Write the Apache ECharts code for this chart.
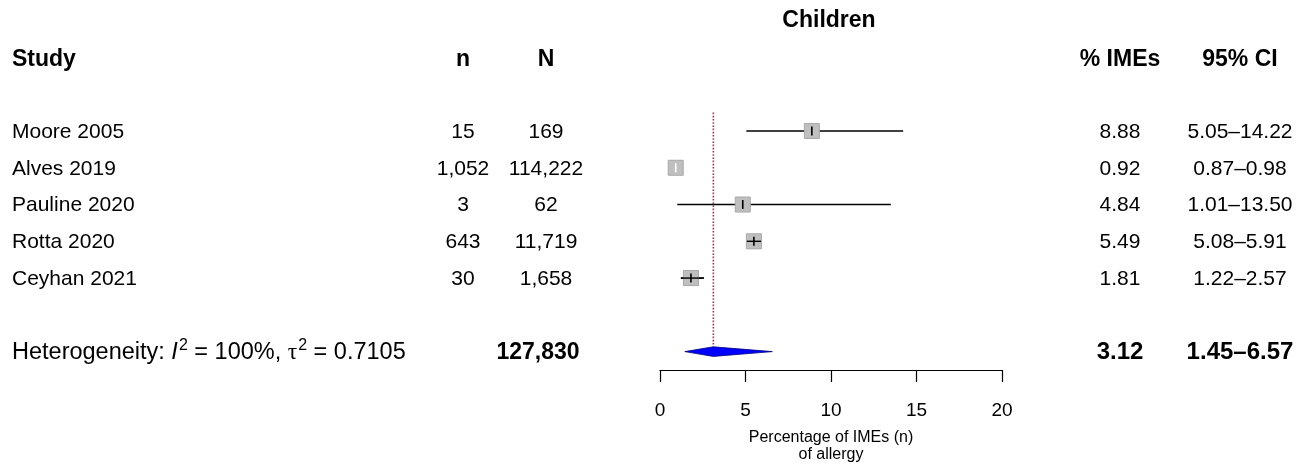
<!DOCTYPE html>
<html><head><meta charset="utf-8">
<script src="https://cdn.jsdelivr.net/npm/echarts@6/dist/echarts.min.js"></script>
<style>html,body{margin:0;padding:0;background:#fff}#c{width:1313px;height:468px}</style>
</head><body><div id="c"></div>
<script>
// ---- data ----
const studies = ['Moore 2005', 'Alves 2019', 'Pauline 2020', 'Rotta 2020', 'Ceyhan 2021'];
const events = [15, 1052, 3, 643, 30];
const totals = [169, 114222, 62, 11719, 1658];
const estimates = [8.88, 0.92, 4.84, 5.49, 1.81];
const lower = [5.05, 0.87, 1.01, 5.08, 1.22];
const upper = [14.22, 0.98, 13.50, 5.91, 2.57];
const pooledEstimate = [3.12];
const pooledLower = [1.45];
const pooledUpper = [6.57];
const pooledTotal = [127830];
const heterogeneity = ['100%', '0.7105'];
const headerLabels = ['Study', 'n', 'N', '% IMEs', '95% CI'];
const panelTitle = ['Children'];
const xTicks = [0, 5, 10, 15, 20];
const axisTitle = ['Percentage of IMEs (n)', 'of allergy'];

// ---- layout ----
const FF = '"Liberation Sans", Arial, sans-serif';
const ROW_TITLE = 0, ROW_HEADER = 1, ROW_FIRST = 3, ROW_SUMMARY = 9;
const COL = {study: 12, n: 463, N: 546, title: 829, pct: 1120, ci: 1240};
const fmtInt = v => v.toLocaleString('en-US');
const fmtCI = (a, b) => a.toFixed(2) + '\u2013' + b.toFixed(2);

const chart = echarts.init(document.getElementById('c'), null, {renderer: 'canvas'});

function txt(p, text, size, bold, align) {
  return {type: 'text', x: p[0], y: p[1], style: {text: text, fontSize: size, fontFamily: FF,
    fontWeight: bold ? 'bold' : 'normal', fill: '#000', align: align, verticalAlign: 'middle'}};
}

const option = {
  animation: false,
  backgroundColor: '#fff',
  textStyle: {fontFamily: FF},
  grid: [
    {left: 660, width: 342, top: 112.6, height: 257.6},
    {left: 0, right: 0, top: 2.2, height: 368}
  ],
  xAxis: [
    {gridIndex: 0, type: 'value', min: xTicks[0], max: xTicks[xTicks.length - 1], interval: 5,
      axisLine: {show: true, onZero: false, lineStyle: {color: '#000', width: 1.2}},
      axisTick: {show: true, length: 12, customValues: xTicks, lineStyle: {color: '#000', width: 1.2}},
      axisLabel: {fontSize: 19, color: '#000', margin: 31, fontFamily: FF, customValues: xTicks},
      splitLine: {show: false},
      name: axisTitle.join('\n'), nameLocation: 'middle', nameGap: 59,
      nameTextStyle: {fontSize: 16, color: '#000', lineHeight: 17, fontFamily: FF}},
    {gridIndex: 1, type: 'value', min: 0, max: 1313, show: false}
  ],
  yAxis: [
    {gridIndex: 0, type: 'value', min: 2.5, max: 9.5, inverse: true, show: false},
    {gridIndex: 1, type: 'value', min: -0.5, max: 9.5, inverse: true, show: false}
  ],
  series: [
    // reference line at pooled estimate
    {type: 'custom', xAxisIndex: 0, yAxisIndex: 0, z: 1,
      data: [[pooledEstimate[0], 2.5, ROW_SUMMARY]],
      renderItem: function (params, api) {
        const a = api.coord([api.value(0), api.value(1)]);
        const b = api.coord([api.value(0), api.value(2)]);
        return {type: 'line', shape: {x1: a[0], y1: a[1], x2: b[0], y2: b[1] - 5},
          style: {stroke: '#b2305e', lineWidth: 1.6, lineDash: [1.6, 1.6]}};
      }},
    // studies
    {type: 'custom', xAxisIndex: 0, yAxisIndex: 0, z: 3,
      data: studies.map((s, i) => [estimates[i], lower[i], upper[i], ROW_FIRST + i]),
      encode: {x: [0, 1, 2], y: 3},
      renderItem: function (params, api) {
        const r = api.value(3);
        const c = api.coord([api.value(0), r]);
        const l = api.coord([api.value(1), r]);
        const h = api.coord([api.value(2), r]);
        const s = 15;
        const w = h[0] - l[0];
        const inner = w < s * 0.5 ? '#ffffff' : '#000000';
        const ch = [];
        ch.push({type: 'line', shape: {x1: l[0], y1: c[1], x2: h[0], y2: c[1]},
          style: {stroke: '#000', lineWidth: 1.4}});
        ch.push({type: 'rect', shape: {x: c[0] - s / 2, y: c[1] - s / 2, width: s, height: s},
          style: {fill: '#bfbfbf', stroke: '#a8a8a8', lineWidth: 1}});
        if (w < s * 2) ch.push({type: 'line', shape: {x1: l[0], y1: c[1], x2: h[0], y2: c[1]},
          style: {stroke: inner, lineWidth: 1.4}});
        ch.push({type: 'line', shape: {x1: c[0], y1: c[1] - 4.5, x2: c[0], y2: c[1] + 4.5},
          style: {stroke: inner, lineWidth: 1.6}});
        return {type: 'group', children: ch};
      }},
    // pooled diamond
    {type: 'custom', xAxisIndex: 0, yAxisIndex: 0, z: 4,
      data: [[pooledEstimate[0], pooledLower[0], pooledUpper[0], ROW_SUMMARY]],
      encode: {x: [0, 1, 2], y: 3},
      renderItem: function (params, api) {
        const r = api.value(3);
        const c = api.coord([api.value(0), r]);
        const l = api.coord([api.value(1), r]);
        const h = api.coord([api.value(2), r]);
        const hh = 4.8;
        return {type: 'polygon', shape: {points: [[l[0], c[1]], [c[0], c[1] - hh], [h[0], c[1]], [c[0], c[1] + hh]]},
          style: {fill: '#0000ff', stroke: '#00007a', lineWidth: 0.8}};
      }},
    // header texts
    {type: 'custom', xAxisIndex: 1, yAxisIndex: 1, z: 5,
      data: [[0, ROW_HEADER]],
      renderItem: function (params, api) {
        const y = api.coord([0, ROW_HEADER])[1];
        const yt = api.coord([0, ROW_TITLE])[1];
        const X = k => api.coord([COL[k], ROW_HEADER])[0];
        return {type: 'group', children: [
          txt([X('title'), yt], panelTitle[0], 23, true, 'center'),
          txt([X('study'), y + 2], headerLabels[0], 23, true, 'left'),
          txt([X('n'), y + 2], headerLabels[1], 23, true, 'center'),
          txt([X('N'), y + 2], headerLabels[2], 23, true, 'center'),
          txt([X('pct'), y + 2], headerLabels[3], 23, true, 'center'),
          txt([X('ci'), y + 2], headerLabels[4], 23, true, 'center')
        ]};
      }},
    // study texts
    {type: 'custom', xAxisIndex: 1, yAxisIndex: 1, z: 5,
      data: studies.map((s, i) => [0, ROW_FIRST + i]),
      renderItem: function (params, api) {
        const i = params.dataIndex;
        const r = api.value(1);
        const X = k => api.coord([COL[k], r])[0];
        const y = api.coord([0, r])[1] + 1;
        return {type: 'group', children: [
          txt([X('study'), y], studies[i], 21, false, 'left'),
          txt([X('n'), y], fmtInt(events[i]), 21, false, 'center'),
          txt([X('N'), y], fmtInt(totals[i]), 21, false, 'center'),
          txt([X('pct'), y], estimates[i].toFixed(2), 21, false, 'center'),
          txt([X('ci'), y], fmtCI(lower[i], upper[i]), 21, false, 'center')
        ]};
      }},
    // summary texts
    {type: 'custom', xAxisIndex: 1, yAxisIndex: 1, z: 5,
      data: [[0, ROW_SUMMARY]],
      renderItem: function (params, api) {
        const r = api.value(1);
        const X = k => api.coord([COL[k], r])[0];
        const y = api.coord([0, r])[1] + 1;
        return {type: 'group', children: [
          {type: 'text', x: X('study'), y: y, style: {
            text: 'Heterogeneity: {it|I}{sup|2} = ' + heterogeneity[0] + ', {tau|\u03C4}{sup|2} = ' + heterogeneity[1],
            fontSize: 23.5, fontFamily: FF, fill: '#000', align: 'left', verticalAlign: 'middle',
            rich: {
              it: {fontSize: 23.5, fontStyle: 'italic', fontFamily: FF, fill: '#000'},
              tau: {fontSize: 23.5, fontFamily: '"Liberation Serif", "DejaVu Serif", serif', fill: '#000'},
              sup: {fontSize: 16, fontFamily: FF, fill: '#000', padding: [0, 0, 15, 1]}
            }}},
          txt([X('N') - 8, y], fmtInt(pooledTotal[0]), 23, true, 'center'),
          txt([X('pct'), y], pooledEstimate[0].toFixed(2), 24, true, 'center'),
          txt([X('ci'), y], fmtCI(pooledLower[0], pooledUpper[0]), 24, true, 'center')
        ]};
      }}
  ]
};
chart.setOption(option);
</script>
</body></html>
